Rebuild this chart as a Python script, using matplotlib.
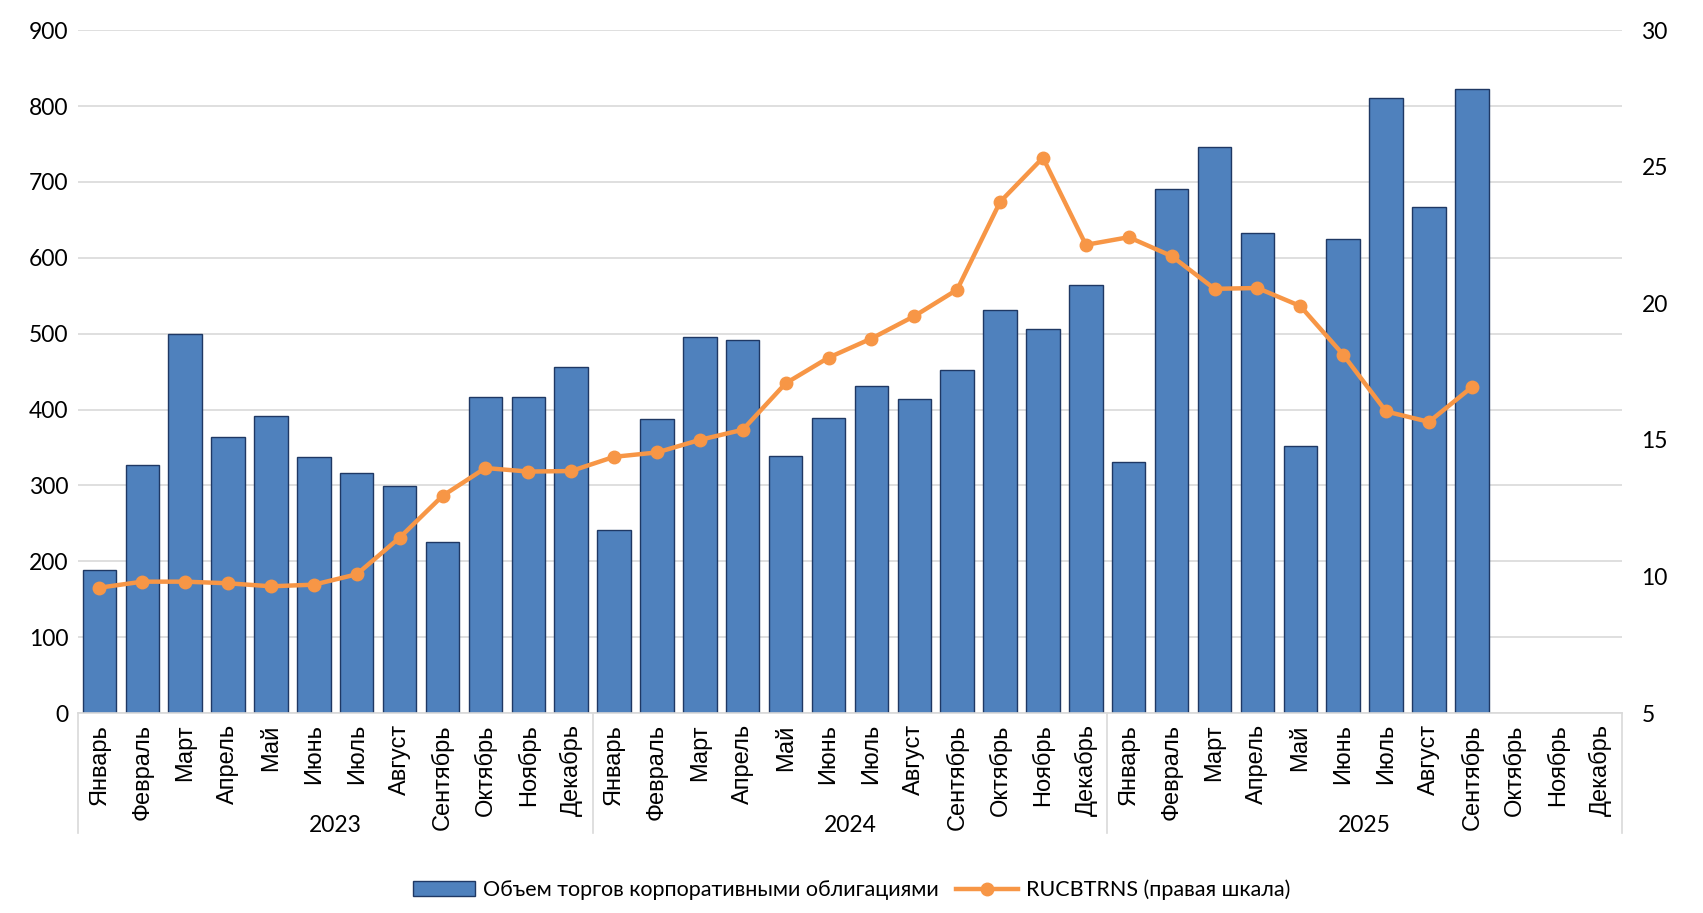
import matplotlib
matplotlib.use("Agg")
import matplotlib.pyplot as plt
import numpy as np
from matplotlib.patches import Patch
from matplotlib.lines import Line2D

plt.rcParams["font.family"] = ["Lato", "DejaVu Sans"]

months = ["Январь", "Февраль", "Март", "Апрель", "Май", "Июнь", "Июль",
          "Август", "Сентябрь", "Октябрь", "Ноябрь", "Декабрь"]
years = ["2023", "2024", "2025"]

# объем торгов (левая шкала)
volume_2023 = [189, 327, 499, 364, 392, 337, 316, 299, 225, 416, 417, 456]
volume_2024 = [241, 388, 496, 492, 339, 389, 431, 414, 452, 531, 506, 564]
volume_2025 = [331, 690, 746, 633, 352, 625, 810, 667, 822]

# RUCBTRNS (правая шкала)
index_2023 = [9.59, 9.81, 9.81, 9.75, 9.64, 9.70, 10.08, 11.42, 12.95, 13.97, 13.84, 13.86]
index_2024 = [14.38, 14.54, 15.00, 15.37, 17.07, 18.01, 18.71, 19.53, 20.50, 23.71, 25.33, 22.14]
index_2025 = [22.42, 21.73, 20.53, 20.56, 19.90, 18.12, 16.04, 15.66, 16.93]

BAR_COLOR = "#4F81BD"
BAR_EDGE = "#1F3864"
LINE_COLOR = "#F79646"
GRID_COLOR = "#D9D9D9"

volume = volume_2023 + volume_2024 + volume_2025
index = index_2023 + index_2024 + index_2025
n_total = len(months) * len(years)
x_all = np.arange(n_total)

fig = plt.figure(figsize=(17.03, 9.13), dpi=100)
ax = fig.add_axes([0.0458, 0.219, 0.9066, 0.748])

ax.bar(np.arange(len(volume)), volume, width=0.78, color=BAR_COLOR,
       edgecolor=BAR_EDGE, linewidth=1.0, zorder=2)
ax.set_ylim(0, 900)
ax.set_yticks(np.arange(0, 901, 100))
ax.set_xlim(-0.5, n_total - 0.5)
ax.grid(axis="y", color=GRID_COLOR, linewidth=1.2, zorder=0)
ax.set_axisbelow(True)

ax.set_xticks(x_all)
ax.set_xticklabels(months * len(years), rotation=90, va="top", ha="center",
                   family=["Liberation Sans", "DejaVu Sans"], fontsize=17)
ax.tick_params(axis="x", length=0, pad=8)
ax.tick_params(axis="y", length=0, pad=7, labelsize=16.5)

for side in ["top", "left", "right"]:
    ax.spines[side].set_visible(False)
ax.spines["bottom"].set_color(GRID_COLOR)
ax.spines["bottom"].set_linewidth(1.2)

ax2 = ax.twinx()
ax2.plot(np.arange(len(index)), index, "o-", color=LINE_COLOR, lw=3.2,
         markersize=9, zorder=3)
ax2.set_ylim(5, 30)
ax2.set_yticks(np.arange(5, 31, 5))
ax2.tick_params(axis="y", length=0, pad=14, labelsize=16.5)
for side in ["top", "left", "right", "bottom"]:
    ax2.spines[side].set_visible(False)

# подписи годов и разделители групп
trans = ax.get_xaxis_transform()
for i, yr in enumerate(years):
    ax.text(i * 12 + 5.5, -0.165, yr, transform=trans, ha="center",
            va="center", fontsize=16.5)
for b in range(len(years) + 1):
    ax.plot([b * 12 - 0.5, b * 12 - 0.5], [0, -0.175], transform=trans,
            color=GRID_COLOR, lw=1.2, clip_on=False)

handles = [
    Patch(facecolor=BAR_COLOR, edgecolor=BAR_EDGE, linewidth=1.0),
    Line2D([0], [0], color=LINE_COLOR, lw=3.2, marker="o", markersize=9),
]
labels = ["Объем торгов корпоративными облигациями", "RUCBTRNS (правая шкала)"]
fig.legend(handles, labels, loc="center", bbox_to_anchor=(0.5, 0.025), ncol=2,
           frameon=False, fontsize=15.5, handlelength=2.9, handleheight=0.7,
           columnspacing=0.8, handletextpad=0.35)

fig.savefig("out.png", dpi=100)
